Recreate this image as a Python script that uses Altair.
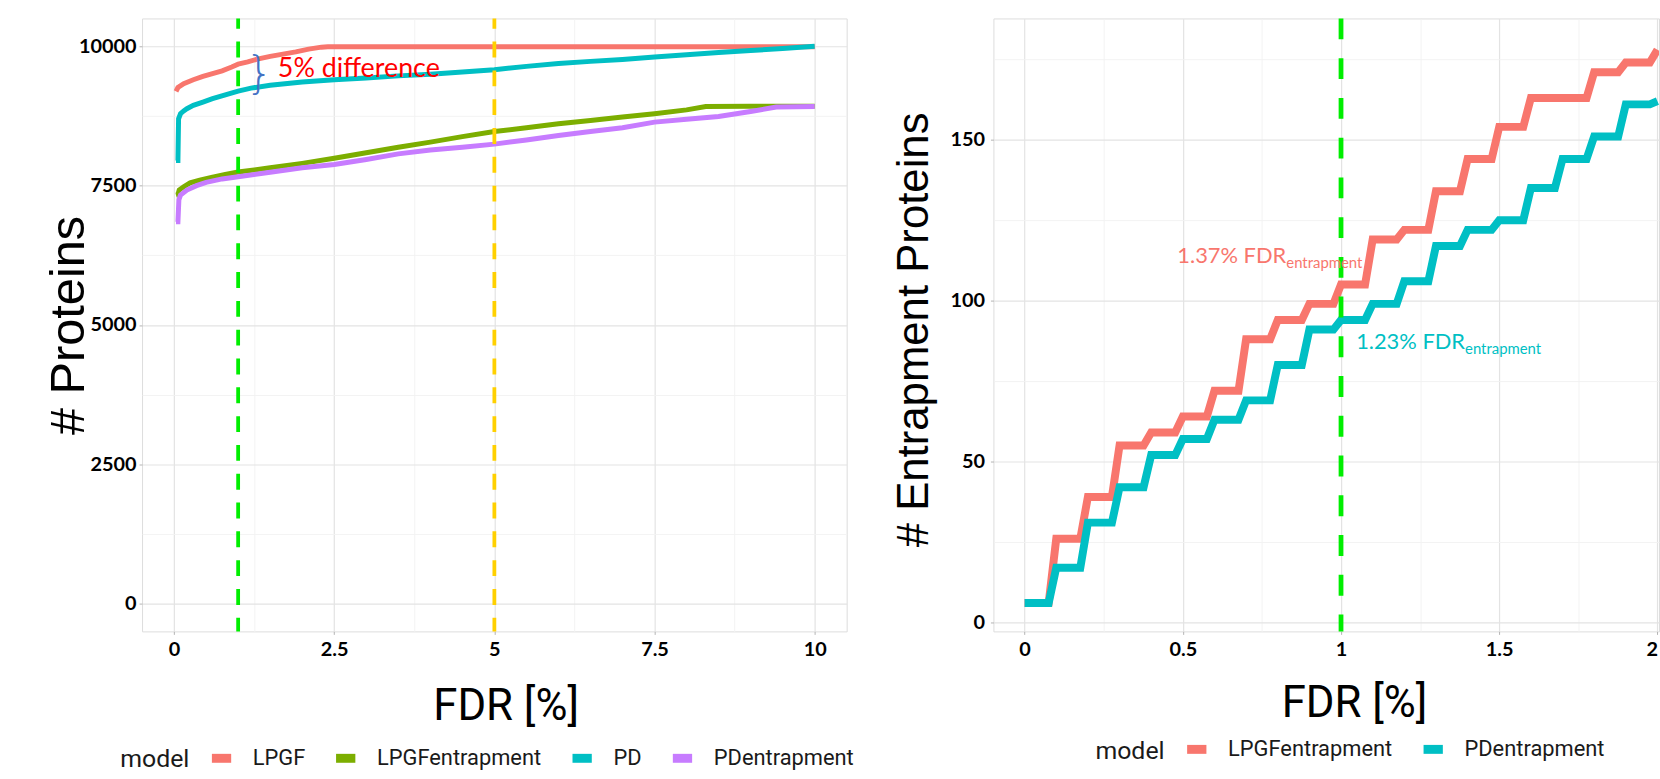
import altair as alt
import pandas as pd

# ---------------- Left panel data ----------------
models_left = ["LPGF", "LPGFentrapment", "PD", "PDentrapment"]
colors_left = ["#F8766D", "#7CAE00", "#00BFC4", "#C77CFF"]

lpgf_fdr = [0.03, 0.06, 0.15, 0.3, 0.45, 0.6, 0.75, 0.9, 1.0, 1.15, 1.3, 1.5, 1.7, 1.9, 2.1, 2.3, 2.4, 10.0]
lpgf_n = [9190, 9260, 9330, 9400, 9460, 9510, 9560, 9630, 9680, 9720, 9770, 9820, 9860, 9900, 9950, 9985, 9992, 9992]

pd_fdr = [0.03, 0.06, 0.07, 0.1, 0.15, 0.2, 0.3, 0.45, 0.6, 0.8, 1.0, 1.2, 1.5, 2.0, 2.5, 3.0, 3.5, 4.0,
          5.0, 5.5, 6.0, 6.5, 7.0, 7.5, 8.0, 8.5, 9.0, 9.5, 10.0]
pd_n = [7950, 7950, 8700, 8790, 8840, 8880, 8940, 9000, 9060, 9130, 9195, 9250, 9300, 9360, 9400, 9430, 9470, 9500,
        9580, 9640, 9690, 9730, 9765, 9810, 9850, 9890, 9925, 9960, 10000]

lpgfe_fdr = [0.03, 0.06, 0.08, 0.15, 0.25, 0.4, 0.6, 0.8, 1.0, 1.5, 2.0, 2.5, 3.0, 3.5, 4.0, 4.5, 5.0, 5.5,
             6.0, 6.5, 7.0, 7.5, 8.0, 8.3, 9.0, 10.0]
lpgfe_n = [7330, 7340, 7420, 7480, 7550, 7600, 7650, 7700, 7745, 7820, 7900, 7990, 8090, 8190, 8280, 8380, 8470, 8540,
           8610, 8670, 8730, 8790, 8860, 8920, 8925, 8925]

pde_fdr = [0.03, 0.06, 0.075, 0.1, 0.2, 0.35, 0.5, 0.75, 1.0, 1.5, 2.0, 2.5, 3.0, 3.5, 4.0, 4.5, 5.0, 5.5,
           6.0, 6.5, 7.0, 7.5, 8.0, 8.5, 9.0, 9.4, 10.0]
pde_n = [6850, 6850, 7250, 7330, 7420, 7500, 7560, 7620, 7660, 7740, 7820, 7880, 7970, 8070, 8140, 8190, 8245, 8320,
         8400, 8470, 8540, 8640, 8690, 8740, 8830, 8910, 8920]

left_x_ticks = [0, 1.25, 2.5, 3.75, 5, 6.25, 7.5, 8.75, 10]
left_y_ticks = [0, 1250, 2500, 3750, 5000, 6250, 7500, 8750, 10000]
left_vlines = [1.0, 5.0]
left_vline_colors = ["#00EE00", "#FFD000"]

note_text = ["5% difference"]
note_x = [1.62]
note_y = [9450]
brace_x = [1.33]
brace_y = [9487]

# ---------------- Right panel data ----------------
models_right = ["LPGFentrapment", "PDentrapment"]
colors_right = ["#F8766D", "#00BFC4"]
step_fdr = [0.0, 0.1, 0.2, 0.3, 0.4, 0.5, 0.6, 0.7, 0.8, 0.9, 1.0, 1.1, 1.2, 1.3, 1.4, 1.5, 1.6, 1.7, 1.8, 1.9, 2.0]
lpgfe_ent = [6, 26, 39, 55, 59, 64, 72, 88, 94, 99, 105, 119, 122, 134, 144, 154, 163, 163, 171, 174, 178]
pde_ent = [6, 17, 31, 42, 52, 57, 63, 69, 80, 91, 94, 99, 106, 117, 122, 125, 135, 144, 151, 161, 162]

right_x_ticks = [0, 0.25, 0.5, 0.75, 1.0, 1.25, 1.5, 1.75, 2.0]
right_y_ticks = [0, 25, 50, 75, 100, 125, 150, 175]

ann_main = ["1.37% FDR", "1.23% FDR"]
ann_sub = ["entrapment", "entrapment"]
ann_x = [0.827, 1.392]
ann_main_y = [111.6, 85.0]
ann_sub_y = [110.0, 83.4]
ann_colors = ["#F8766D", "#00BFC4"]

# ---------------- Build tables ----------------
rows = []
for m, xs, ys in [("LPGF", lpgf_fdr, lpgf_n), ("LPGFentrapment", lpgfe_fdr, lpgfe_n),
                  ("PD", pd_fdr, pd_n), ("PDentrapment", pde_fdr, pde_n)]:
    for a, b in zip(xs, ys):
        rows.append({"fdr": a, "n": b, "model": m})
left_df = pd.DataFrame(rows)

RAMP = 0.024
rows = []
for m, vs in [("LPGFentrapment", lpgfe_ent), ("PDentrapment", pde_ent)]:
    order = 0
    rows.append({"fdr": step_fdr[0], "n": vs[0], "model": m, "o": order})
    for i in range(1, len(step_fdr)):
        order += 1
        rows.append({"fdr": step_fdr[i] - RAMP, "n": vs[i - 1], "model": m, "o": order})
        order += 1
        rows.append({"fdr": step_fdr[i], "n": vs[i], "model": m, "o": order})
right_df = pd.DataFrame(rows)

GRID_MAJ = "#E3E3E3"
GRID_MIN = "#F1F1F1"
TICK_COL = "#B3B3B3"
TITLE_FONT_H = "Roboto"
TITLE_FONT_V = "Liberation Sans"
LABEL_FONT = "Lato"


def axis(values, step, title, **kw):
    minor = f"datum.value % {step} !== 0"
    return alt.Axis(
        values=values,
        labelExpr=f"datum.value % {step} === 0 ? format(datum.value, '~g') : ''",
        title=title,
        grid=True,
        gridColor={"condition": {"test": minor, "value": GRID_MIN}, "value": GRID_MAJ},
        gridWidth={"condition": {"test": minor, "value": 0.9}, "value": 1.2},
        tickColor={"condition": {"test": minor, "value": "rgba(0,0,0,0)"}, "value": TICK_COL},
        tickSize=3,
        domain=False,
        labelFont=LABEL_FONT,
        labelFontWeight="bold",
        labelFontSize=20,
        labelColor="#000000",
        titleColor="#000000",
        titleFontWeight="normal",
        **kw,
    )


def legend(lx, ly):
    return alt.Legend(
        orient="none", legendX=lx, legendY=ly, direction="horizontal",
        title="model", titleOrient="left", titleAnchor="middle", titleBaseline="middle",
        titleFont=TITLE_FONT_H, titleFontSize=25, titleFontWeight="normal", titleColor="#1A1A1A",
        titlePadding=17.5, labelLimit=0,
        labelFont=TITLE_FONT_H, labelFontSize=22, labelColor="#1A1A1A", labelOffset=17,
        symbolType="stroke", symbolSize=377, symbolStrokeWidth=9, symbolOpacity=1,
        columnPadding=12,
    )


# ---------------- Left chart ----------------
LW, LH = 709.3, 617
lx_scale = alt.Scale(domain=[-0.5, 10.5], nice=False, zero=False)
ly_scale = alt.Scale(domain=[-500, 10500], nice=False, zero=False)
left_x_axis = axis(left_x_ticks, 2.5, "FDR [%]", titleFont=TITLE_FONT_H, titleFontSize=44,
                   labelPadding=5, titleX=366, titleY=89, titleBaseline="alphabetic", titleAlign="center")
left_y_axis = axis(left_y_ticks, 2500, "# Proteins", titleFont=TITLE_FONT_V, titleFontSize=49,
                   labelPadding=3, titleX=-58.7, titleY=308.5, titleBaseline="alphabetic",
                   titleAngle=270, titleAlign="center")
LX = alt.X("fdr:Q", scale=lx_scale, axis=left_x_axis)
LY = alt.Y("n:Q", scale=ly_scale, axis=left_y_axis)

left_lines = alt.Chart(left_df).mark_line(strokeWidth=5, clip=True).encode(
    x=LX, y=LY,
    color=alt.Color("model:N", scale=alt.Scale(domain=models_left, range=colors_left),
                    legend=legend(-22, 730)),
    order=alt.Order("fdr:Q"),
)

vl_df = pd.DataFrame({"fdr": left_vlines, "c": left_vline_colors})
left_rules = alt.Chart(vl_df).mark_rule(strokeWidth=3.8, strokeDash=[16, 13], strokeDashOffset=5.7).encode(
    x=LX,
    color=alt.Color("c:N", scale=None, legend=None),
)

note_df = pd.DataFrame({"fdr": note_x, "n": note_y, "t": note_text})
left_note = alt.Chart(note_df).mark_text(
    align="left", baseline="alphabetic", font="Lato", fontSize=27, color="#FF0000"
).encode(x=LX, y=LY, text="t:N")

brace_df = pd.DataFrame({"fdr": brace_x, "n": brace_y, "t": ["}"]})
left_brace = alt.Chart(brace_df).mark_text(
    align="center", baseline="middle", font="DejaVu Sans", fontSize=44, fontWeight=300, color="#4472C4"
).encode(x=LX, y=LY, text="t:N")

left = alt.layer(left_lines, left_rules, left_brace, left_note).properties(width=LW, height=LH)

# ---------------- Right chart ----------------
RW, RH = 670, 617
rx_scale = alt.Scale(domain=[-0.0986, 2.005], nice=False, zero=False)
ry_scale = alt.Scale(domain=[-2.8, 187.7], nice=False, zero=False)
right_x_axis = axis(right_x_ticks, 0.5, "FDR [%]", titleFont=TITLE_FONT_H, titleFontSize=44,
                    labelPadding=5, titleX=363, titleY=86, titleBaseline="alphabetic",
                    titleAlign="center", labelFlush=10)
right_y_axis = axis(right_y_ticks, 50, "# Entrapment Proteins", titleFont=TITLE_FONT_V, titleFontSize=44,
                    labelPadding=6, titleX=-66.3, titleY=313, titleBaseline="alphabetic",
                    titleAngle=270, titleAlign="center")
RX = alt.X("fdr:Q", scale=rx_scale, axis=right_x_axis)
RY = alt.Y("n:Q", scale=ry_scale, axis=right_y_axis)

right_lines = alt.Chart(right_df).mark_line(strokeWidth=8, clip=True).encode(
    x=RX, y=RY,
    color=alt.Color("model:N", scale=alt.Scale(domain=models_right, range=colors_right),
                    legend=legend(102.7, 721)),
    order=alt.Order("o:Q"),
)

right_rule = alt.Chart(pd.DataFrame({"fdr": [1.0]})).mark_rule(
    strokeWidth=4.8, strokeDash=[21, 19], color="#00EE00"
).encode(x=RX)

ann_main_df = pd.DataFrame({"fdr": ann_x, "n": ann_main_y, "t": ann_main, "c": ann_colors})
ann_sub_df = pd.DataFrame({"fdr": ann_x, "n": ann_sub_y, "t": ann_sub, "c": ann_colors})
ann_main_layer = alt.Chart(ann_main_df).mark_text(
    align="right", baseline="alphabetic", font="Lato", fontSize=22
).encode(x=RX, y=RY, text="t:N", color=alt.Color("c:N", scale=None, legend=None))
ann_sub_layer = alt.Chart(ann_sub_df).mark_text(
    align="left", baseline="alphabetic", font="Lato", fontSize=15
).encode(x=RX, y=RY, text="t:N", color=alt.Color("c:N", scale=None, legend=None))

right = alt.layer(right_lines, right_rule, ann_main_layer, ann_sub_layer).properties(width=RW, height=RH)

chart = alt.hconcat(left, right, spacing=37).resolve_scale(color="independent").properties(
    padding={"left": 44, "top": 13, "right": 0, "bottom": 0}
).configure_view(stroke="#C8C8C8", strokeWidth=1).configure(background="white")

chart.save("out.html", embed_options={"renderer": "svg", "actions": False})
